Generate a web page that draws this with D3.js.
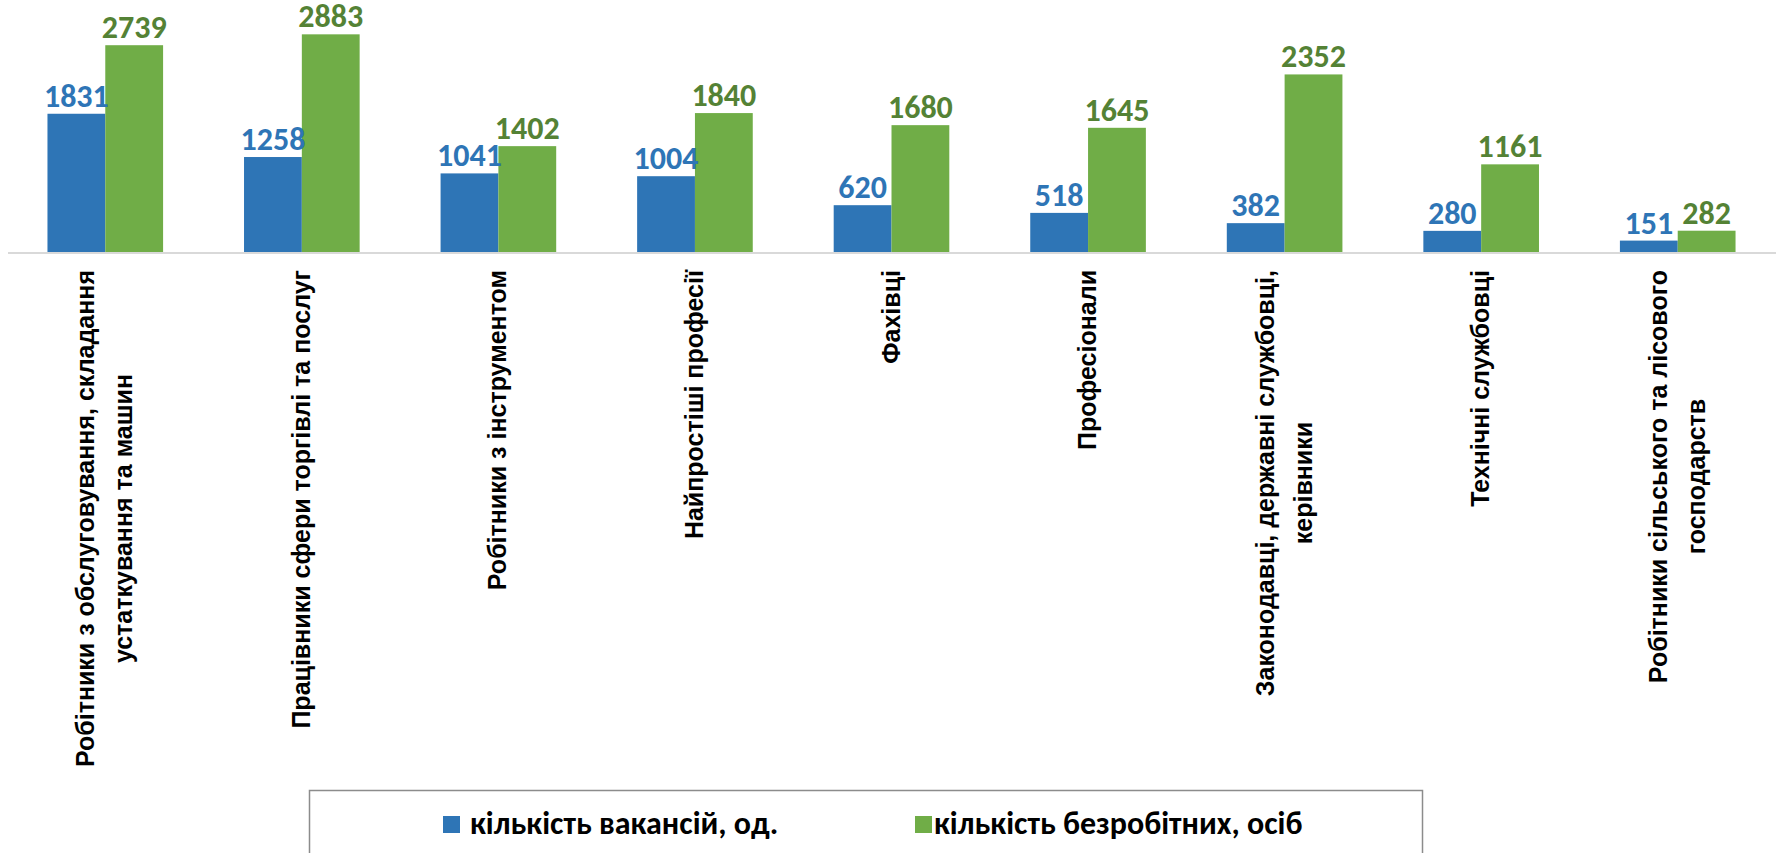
<!DOCTYPE html>
<html>
<head>
<meta charset="utf-8">
<script src="https://cdn.jsdelivr.net/npm/d3@7"></script>
<style>
  body { margin: 0; background: #fff; }
  svg { display: block; }
</style>
</head>
<body>
<script>
var width = 1776;
var height = 853;

var categories = [
  ["Робітники з обслуговування, складання", "устаткування та машин"],
  ["Працівники сфери торгівлі та послуг"],
  ["Робітники з інструментом"],
  ["Найпростіші професії"],
  ["Фахівці"],
  ["Професіонали"],
  ["Законодавці, державні службовці,", "керівники"],
  ["Технічні службовці"],
  ["Робітники сільського та лісового", "господарств"]
];
var vacancies = [1831, 1258, 1041, 1004, 620, 518, 382, 280, 151];
var unemployed = [2739, 2883, 1402, 1840, 1680, 1645, 2352, 1161, 282];
var seriesNames = ["кількість вакансій, од.", "кількість безробітних, осіб"];

var barColors = ["#2e75b6", "#70ad47"];
var labelColors = ["#2e75b6", "#548235"];
var numFont = "Carlito, Calibri, 'Liberation Sans Narrow', 'DejaVu Sans Condensed', sans-serif";
var catFont = "'Liberation Sans', Arial, sans-serif";

var baseY = 252;

var svg = d3.select("body")
    .append("svg")
        .attr("width", width)
        .attr("height", height);

var x0 = d3.scaleBand()
    .domain(d3.range(categories.length))
    .range([7, 1776]);

var x1 = d3.scaleBand()
    .domain([0, 1])
    .range([0, x0.bandwidth()])
    .paddingOuter(0.7);

var y = d3.scaleLinear()
    .domain([0, 3000])
    .range([baseY, 25.5]);

var rows = vacancies.map(function(v, i) { return [v, unemployed[i]]; });

var groups = svg.selectAll("g.cat")
    .data(rows)
    .enter().append("g")
      .attr("class", "cat")
      .attr("transform", function(d, i) { return "translate(" + x0(i) + ",0)"; });

groups.selectAll("rect")
    .data(function(d) { return d; })
    .enter().append("rect")
      .attr("x", function(d, j) { return x1(j); })
      .attr("y", function(d) { return y(d); })
      .attr("width", x1.bandwidth())
      .attr("height", function(d) { return baseY - y(d); })
      .attr("fill", function(d, j) { return barColors[j]; });

groups.selectAll("text.val")
    .data(function(d) { return d; })
    .enter().append("text")
      .attr("class", "val")
      .attr("x", function(d, j) { return x1(j) + x1.bandwidth() / 2; })
      .attr("y", function(d) { return y(d) - 7; })
      .attr("text-anchor", "middle")
      .attr("font-family", numFont)
      .attr("font-weight", "bold")
      .attr("font-size", 32)
      .attr("fill", function(d, j) { return labelColors[j]; })
      .text(function(d) { return d; });

// axis line
svg.append("line")
    .attr("x1", 8)
    .attr("x2", width)
    .attr("y1", baseY + 1)
    .attr("y2", baseY + 1)
    .attr("stroke", "#d9d9d9")
    .attr("stroke-width", 2);

// rotated category labels
var lineGap = 38;
var catSize = 25;
categories.forEach(function(lines, i) {
  var cx = x0(i) + x0.bandwidth() / 2;
  var g = svg.append("g");
  var texts = lines.map(function(s, k) {
    return g.append("text")
      .attr("font-family", catFont)
      .attr("font-weight", "bold")
      .attr("font-size", catSize)
      .attr("fill", "#000")
      .attr("text-anchor", "middle")
      .text(s);
  });
  var maxLen = d3.max(texts, function(t) { return t.node().getComputedTextLength(); });
  var cy = baseY + 18 + maxLen / 2;
  texts.forEach(function(t, k) {
    var off = (k - (lines.length - 1) / 2) * lineGap;
    t.attr("transform", "translate(" + (cx + off + 8) + "," + cy + ") rotate(-90)");
  });
});

// legend
svg.append("rect")
    .attr("x", 309.5)
    .attr("y", 790.5)
    .attr("width", 1113)
    .attr("height", 80)
    .attr("fill", "none")
    .attr("stroke", "#8c8c8c")
    .attr("stroke-width", 1.5);

var legendBox = [443, 915];
var legendText = [470, 934];
seriesNames.forEach(function(name, j) {
  svg.append("rect")
      .attr("x", legendBox[j])
      .attr("y", 816)
      .attr("width", 17)
      .attr("height", 17)
      .attr("fill", barColors[j]);
  svg.append("text")
      .attr("x", legendText[j])
      .attr("y", 834)
      .attr("font-family", numFont)
      .attr("font-weight", "bold")
      .attr("font-size", 32)
      .attr("fill", "#000")
      .text(name);
});
</script>
</body>
</html>
